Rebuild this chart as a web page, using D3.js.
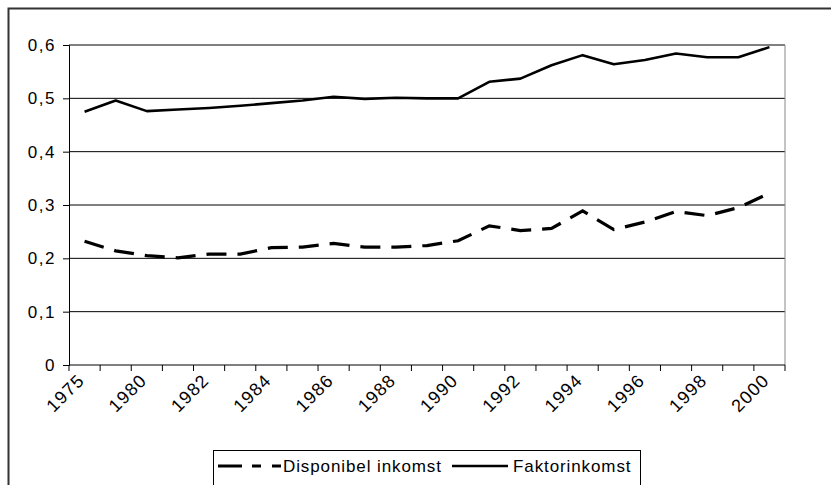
<!DOCTYPE html>
<html>
<head>
<meta charset="utf-8">
<script src="https://cdn.jsdelivr.net/npm/d3@7"></script>
<style>
  html, body { margin: 0; padding: 0; background: #fff; }
  svg { display: block; font-family: "Liberation Sans", Arial, sans-serif; }
</style>
</head>
<body>
<svg id="chart" width="831" height="485"></svg>
<script>
// Data
const years = ["1975","1978","1980","1981","1982","1983","1984","1985","1986","1987","1988","1989",
               "1990","1991","1992","1993","1994","1995","1996","1997","1998","1999","2000"];
const disponibel = [0.232,0.214,0.205,0.201,0.208,0.208,0.220,0.221,0.228,0.221,0.221,0.224,
                    0.233,0.261,0.252,0.256,0.289,0.254,0.268,0.288,0.280,0.295,0.322];
const faktor = [0.475,0.496,0.476,0.479,0.482,0.486,0.491,0.496,0.503,0.499,0.501,0.500,
                0.500,0.531,0.537,0.562,0.581,0.564,0.572,0.584,0.577,0.577,0.596];
const yTicks = [0,0.1,0.2,0.3,0.4,0.5,0.6];
const seriesNames = ["Disponibel inkomst","Faktorinkomst"];

const svg = d3.select("#chart");
svg.append("rect").attr("width",831).attr("height",485).attr("fill","#fff");

// outer chart border
svg.append("rect").attr("x",8.5).attr("y",8.5).attr("width",900).attr("height",600)
  .attr("fill","none").attr("stroke","#333").attr("stroke-width",2);

const pLeft = 69, pRight = 785, pTop = 45, pBottom = 365;
const x = d3.scaleBand().domain(years).range([pLeft, pRight]).padding(0);
const y = d3.scaleLinear().domain([0,0.6]).range([pBottom, pTop]);

// gridlines
svg.append("g").selectAll("line").data(yTicks.filter(d => d > 0)).join("line")
  .attr("x1", pLeft).attr("x2", pRight)
  .attr("y1", d => y(d)).attr("y2", d => y(d))
  .attr("stroke", "#000").attr("stroke-width", 1);

// plot right border
svg.append("line").attr("x1", pRight).attr("x2", pRight).attr("y1", pTop).attr("y2", pBottom)
  .attr("stroke", "#888").attr("stroke-width", 1);

// y axis
const yAxis = d3.axisLeft(y).tickValues(yTicks).tickSize(6).tickPadding(7)
  .tickFormat(d => d === 0 ? "0" : d3.format(".1f")(d).replace(".", ","));
const gy = svg.append("g").attr("transform", `translate(${pLeft},0)`).call(yAxis);
gy.select(".domain").attr("stroke", "#000");
gy.selectAll(".tick line").attr("stroke", "#000");
gy.selectAll("text").attr("font-size", 17).attr("fill", "#000")
  .attr("font-family", "Liberation Sans, Arial, sans-serif").style("letter-spacing", "1.5px");

// x axis: ticks at category boundaries
const boundaries = years.map(d => x(d)).concat([pRight]);
const gx = svg.append("g");
gx.append("line").attr("x1", pLeft).attr("x2", pRight).attr("y1", pBottom).attr("y2", pBottom)
  .attr("stroke", "#000").attr("stroke-width", 1);
gx.selectAll("line.tk").data(boundaries).join("line").attr("class","tk")
  .attr("x1", d => d).attr("x2", d => d).attr("y1", pBottom).attr("y2", pBottom + 6)
  .attr("stroke", "#000").attr("stroke-width", 1);
gx.selectAll("text").data(years.filter((d,i) => i % 2 === 0)).join("text")
  .attr("transform", d => `translate(${x(d) + x.bandwidth()/2 + 1},${pBottom + 16.5}) rotate(-45)`)
  .attr("text-anchor", "end")
  .attr("font-size", 18).attr("fill", "#000").style("letter-spacing", "1.2px")
  .text(d => d);

// lines
const line = d3.line().x((d,i) => x(years[i]) + x.bandwidth()/2).y(d => y(d));
svg.append("path").datum(faktor).attr("d", line)
  .attr("fill","none").attr("stroke","#000").attr("stroke-width",2.6).attr("stroke-linejoin","round");
svg.append("path").datum(disponibel).attr("d", line)
  .attr("fill","none").attr("stroke","#000").attr("stroke-width",3.2)
  .attr("stroke-dasharray","20,11");

// legend
const lg = svg.append("g");
lg.append("rect").attr("x",213.5).attr("y",450.5).attr("width",427).attr("height",60)
  .attr("fill","#fff").attr("stroke","#000").attr("stroke-width",1);
const ly = 466;
lg.append("line").attr("x1",218).attr("x2",282).attr("y1",ly).attr("y2",ly)
  .attr("stroke","#000").attr("stroke-width",3.2).attr("stroke-dasharray","24,10,9,11,9");
lg.append("text").attr("x",283).attr("y",ly + 6).attr("font-size",17)
  .style("letter-spacing","0.9px").text(seriesNames[0]);
lg.append("line").attr("x1",452).attr("x2",508).attr("y1",ly).attr("y2",ly)
  .attr("stroke","#000").attr("stroke-width",2.6);
lg.append("text").attr("x",513).attr("y",ly + 6).attr("font-size",17)
  .style("letter-spacing","0.9px").text(seriesNames[1]);
</script>
</body>
</html>
